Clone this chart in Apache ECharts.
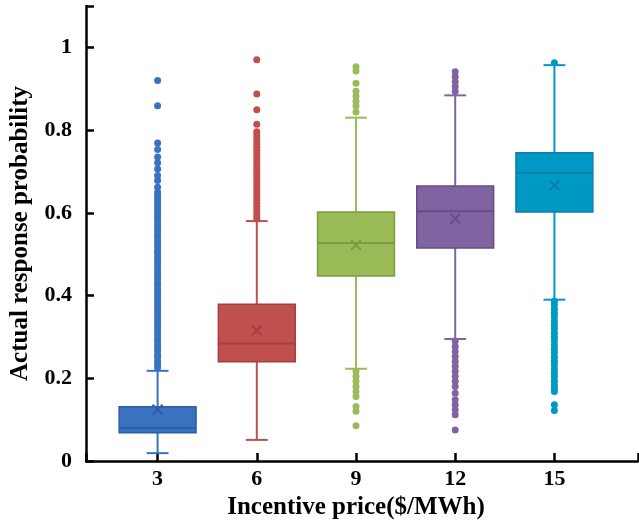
<!DOCTYPE html>
<html>
<head>
<meta charset="utf-8">
<script src="https://cdn.jsdelivr.net/npm/echarts@6/dist/echarts.min.js"></script>
<style>
  html, body { margin: 0; padding: 0; background: #ffffff; }
  #chart { width: 639px; height: 529px; }
</style>
</head>
<body>
<div id="chart"></div>
<script>
// Incentive price categories ($/MWh)
const categories = ['3', '6', '9', '12', '15'];

// Box statistics per price level
const lowerWhisker = [0.019, 0.051, 0.223, 0.295, 0.390];
const quartile1    = [0.068, 0.240, 0.447, 0.515, 0.602];
const medians      = [0.080, 0.284, 0.527, 0.604, 0.697];
const quartile3    = [0.131, 0.379, 0.602, 0.665, 0.745];
const upperWhisker = [0.218, 0.580, 0.830, 0.884, 0.957];
const means        = [0.124, 0.316, 0.522, 0.586, 0.666];

// Outlying observations per price level
const outliers3 = [
  0.226, 0.233, 0.241, 0.250, 0.257, 0.266, 0.273, 0.281, 0.290, 0.297,
  0.305, 0.313, 0.322, 0.329, 0.337, 0.346, 0.353, 0.361, 0.369, 0.377,
  0.384, 0.392, 0.400, 0.408, 0.415, 0.424, 0.431, 0.439, 0.447, 0.454,
  0.463, 0.470, 0.478, 0.486, 0.493, 0.502, 0.509, 0.517, 0.525, 0.532,
  0.541, 0.548, 0.556, 0.564, 0.571, 0.580, 0.587, 0.595, 0.603, 0.611,
  0.618, 0.626, 0.634, 0.642, 0.650, 0.662, 0.678, 0.690, 0.706, 0.721,
  0.735, 0.753, 0.769, 0.859, 0.920
];
const outliers6 = [
  0.586, 0.593, 0.601, 0.608, 0.616, 0.623, 0.631, 0.638, 0.646, 0.653,
  0.661, 0.668, 0.676, 0.683, 0.691, 0.698, 0.706, 0.713, 0.721, 0.728,
  0.736, 0.743, 0.751, 0.758, 0.766, 0.773, 0.781, 0.788, 0.796, 0.814,
  0.849, 0.887, 0.970
];
const outliers9 = [
  0.844, 0.858, 0.870, 0.882, 0.894, 0.913, 0.943, 0.953,
  0.217, 0.205, 0.193, 0.180, 0.168, 0.156, 0.132, 0.120, 0.085
];
const outliers12 = [
  0.893, 0.905, 0.917, 0.929, 0.941,
  0.290, 0.277, 0.265, 0.253, 0.241, 0.229, 0.217, 0.205, 0.193, 0.180,
  0.164, 0.148, 0.136, 0.124, 0.112, 0.075
];
const outliers15 = [
  0.963,
  0.386, 0.377, 0.367, 0.357, 0.348, 0.338, 0.328, 0.319, 0.309, 0.299,
  0.290, 0.280, 0.270, 0.261, 0.251, 0.241, 0.232, 0.222, 0.212, 0.203,
  0.193, 0.183, 0.174, 0.168, 0.136, 0.122
];
const outlierGroups = [outliers3, outliers6, outliers9, outliers12, outliers15];

// Palette: box fill and darker outline per price level
const fillColors = ['#3A71C1', '#C0504D', '#9BBB59', '#8064A2', '#0099C6'];
const edgeColors = ['#2C5EA3', '#A33F3C', '#7E9C42', '#664D88', '#0A80A8'];

const FONT = '"Liberation Serif", "Times New Roman", serif';

const boxData = categories.map((c, i) => [
  i, lowerWhisker[i], quartile1[i], medians[i], quartile3[i], upperWhisker[i], means[i]
]);

function renderBox(params, api) {
  const i = api.value(0);
  const band = api.size([1, 0])[0];
  const boxW = band * 0.775;
  const capW = band * 0.22;
  const pLow = api.coord([i, api.value(1)]);
  const pQ1 = api.coord([i, api.value(2)]);
  const pMed = api.coord([i, api.value(3)]);
  const pQ3 = api.coord([i, api.value(4)]);
  const pHigh = api.coord([i, api.value(5)]);
  const pMean = api.coord([i, api.value(6)]);
  const x = pMed[0];
  const fill = fillColors[i];
  const edge = edgeColors[i];
  const lineStyle = { stroke: fill, lineWidth: 2 };
  const xs = 5;
  return {
    type: 'group',
    children: [
      { type: 'line', shape: { x1: x, y1: pLow[1], x2: x, y2: pQ1[1] }, style: lineStyle },
      { type: 'line', shape: { x1: x, y1: pQ3[1], x2: x, y2: pHigh[1] }, style: lineStyle },
      { type: 'line', shape: { x1: x - capW / 2, y1: pLow[1], x2: x + capW / 2, y2: pLow[1] }, style: lineStyle },
      { type: 'line', shape: { x1: x - capW / 2, y1: pHigh[1], x2: x + capW / 2, y2: pHigh[1] }, style: lineStyle },
      {
        type: 'rect',
        shape: { x: x - boxW / 2, y: pQ3[1], width: boxW, height: pQ1[1] - pQ3[1] },
        style: { fill: fill, stroke: edge, lineWidth: 1.5 }
      },
      { type: 'line', shape: { x1: x - boxW / 2, y1: pMed[1], x2: x + boxW / 2, y2: pMed[1] }, style: { stroke: edge, lineWidth: 2 } },
      { type: 'line', shape: { x1: x - xs, y1: pMean[1] - xs, x2: x + xs, y2: pMean[1] + xs }, style: { stroke: edge, lineWidth: 2 } },
      { type: 'line', shape: { x1: x - xs, y1: pMean[1] + xs, x2: x + xs, y2: pMean[1] - xs }, style: { stroke: edge, lineWidth: 2 } }
    ]
  };
}

const outlierSeries = outlierGroups.map((vals, i) => ({
  type: 'scatter',
  xAxisIndex: 1,
  yAxisIndex: 1,
  symbol: 'circle',
  symbolSize: 7,
  itemStyle: { color: fillColors[i], opacity: 1 },
  data: vals.map(v => [i, v]),
  z: 3
}));

const chart = echarts.init(document.getElementById('chart'), null, { renderer: 'canvas' });
chart.setOption({
  animation: false,
  backgroundColor: '#ffffff',
  grid: [
    { left: 86, right: 1, top: 6, bottom: 68 },
    { left: 108, width: 496, top: 6, bottom: 68 }
  ],
  xAxis: [
    {
      type: 'value', gridIndex: 0, min: 0, max: 1, interval: 1,
      axisLine: { show: true, lineStyle: { color: '#000', width: 2.5 } },
      axisTick: { show: true, inside: true, length: 8, lineStyle: { color: '#000', width: 2.5 } },
      axisLabel: { show: false },
      splitLine: { show: false }
    },
    {
      type: 'category', gridIndex: 1, data: categories,
      axisLine: { show: false },
      axisTick: { show: true, inside: true, alignWithLabel: true, length: 8, lineStyle: { color: '#000', width: 2.5 } },
      axisLabel: { margin: 7, fontFamily: FONT, fontWeight: 'bold', fontSize: 22, color: '#000' },
      name: 'Incentive price($/MWh)',
      nameLocation: 'middle',
      nameGap: 34,
      nameTextStyle: { fontFamily: FONT, fontWeight: 'bold', fontSize: 25, color: '#000' },
      splitLine: { show: false }
    }
  ],
  yAxis: [
    {
      type: 'value', gridIndex: 0, min: 0, max: 1.1, interval: 0.2,
      axisLine: { show: true, lineStyle: { color: '#000', width: 2.5 } },
      axisTick: { show: true, inside: true, length: 8, lineStyle: { color: '#000', width: 2.5 } },
      axisLabel: {
        margin: 14, fontFamily: FONT, fontWeight: 'bold', fontSize: 22, color: '#000',
        formatter: v => (v > 1.05 ? '' : String(Math.round(v * 10) / 10))
      },
      name: 'Actual response probability',
      nameLocation: 'middle',
      nameGap: 53,
      nameRotate: 90,
      nameTextStyle: { fontFamily: FONT, fontWeight: 'bold', fontSize: 25, color: '#000' },
      splitLine: { show: false }
    },
    {
      type: 'value', gridIndex: 1, min: 0, max: 1.1, show: false,
      splitLine: { show: false }
    }
  ],
  series: [
    {
      type: 'custom',
      xAxisIndex: 1,
      yAxisIndex: 1,
      renderItem: renderBox,
      encode: { x: 0, y: [1, 2, 3, 4, 5, 6] },
      data: boxData,
      z: 2
    },
    ...outlierSeries
  ]
});
</script>
</body>
</html>
